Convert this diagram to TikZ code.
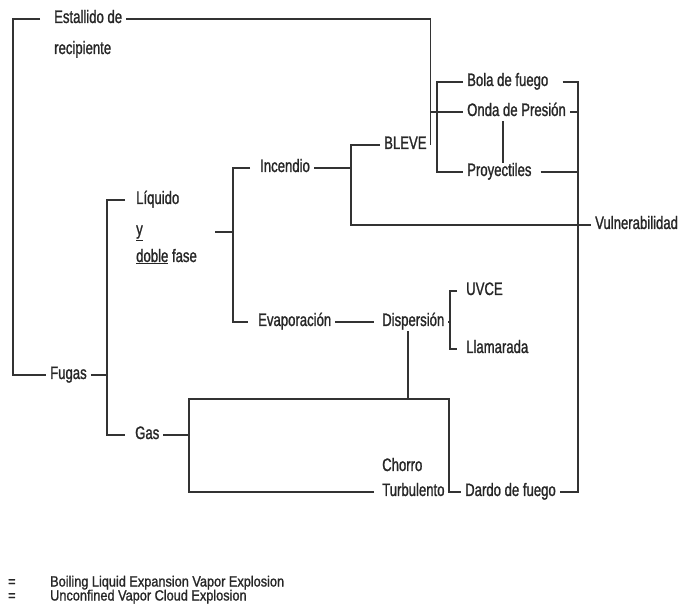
\documentclass[tikz,border=0pt]{standalone}
\usepackage{fontspec}
\setmainfont{Liberation Sans}[FakeStretch=0.73,FakeBold=1.2]
\newfontfamily\legfont{Liberation Sans}[FakeStretch=0.86,FakeBold=1.2]
\usepackage{tikz}
\usetikzlibrary{calc}
\definecolor{inkline}{HTML}{333333}
\definecolor{inktext}{HTML}{262626}

\begin{document}
\begin{tikzpicture}[x=1pt,y=-1pt,
    lbl/.style={anchor=west,inner xsep=4pt,inner ysep=1pt,text=inktext,
      font=\fontsize{18}{20}\selectfont,text height=12pt,text depth=4pt},
    leg/.style={lbl,inner ysep=0pt,text height=10pt,text depth=3pt,
      font=\legfont\fontsize{14.8}{16}\selectfont},
    link/.style={draw=inkline,line width=1.2pt}]
  \useasboundingbox (0,0) rectangle (678,612);
  % labels
  \node[lbl] (est)   at (50,19)   {Estallido de};
  \node[lbl] (rec)   at (50,50)   {recipiente};
  \node[lbl] (liq)   at (132,200) {Líquido};
  \node[lbl] (liqy)  at (132,231) {\underline{y}};
  \node[lbl] (liqf)  at (132,258) {\underline{doble} fase};
  \node[lbl] (fug)   at (46,375)  {Fugas};
  \node[lbl] (gas)   at (131,435) {Gas};
  \node[lbl] (inc)   at (256,168) {Incendio};
  \node[lbl] (evap)  at (254,322) {Evaporación};
  \node[lbl] (bleve) at (380,145) {BLEVE};
  \node[lbl] (bola)  at (463,82)  {Bola de fuego};
  \node[lbl] (onda)  at (463,112) {Onda de Presión};
  \node[lbl] (proy)  at (463,172) {Proyectiles};
  \node[lbl] (vuln)  at (591,225) {Vulnerabilidad};
  \node[lbl] (disp)  at (378,322) {Dispersión};
  \node[lbl] (uvce)  at (462,291) {UVCE};
  \node[lbl] (llam)  at (462,349) {Llamarada};
  \node[lbl] (cho)   at (378,467) {Chorro};
  \node[lbl] (turb)  at (378,492) {Turbulento};
  \node[lbl] (dardo) at (461,492) {Dardo de fuego};
  % legend
  \node[leg] (eq1) at (4,583) {=};
  \node[leg] (lg1) at (46,583) {Boiling Liquid Expansion Vapor Explosion};
  \node[leg] (eq2) at (4,597) {=};
  \node[leg] (lg2) at (46,597) {Unconfined Vapor Cloud Explosion};
  % bracket spines
  \coordinate (lsp) at (13,0);
  \coordinate (fsp) at (107,0);
  \coordinate (gsp) at (189,0);
  \coordinate (qsp) at (233,0);
  \coordinate (isp) at (351,0);
  \coordinate (dsp) at (408,0);
  \coordinate (bsp) at (437,0);
  \coordinate (ssp) at (450,0);
  \coordinate (osp) at (503,0);
  \coordinate (rsp) at (578,0);
  \coordinate (gtop) at (449,399);
  \coordinate (liqt) at (215,232);
  % connectors
  \draw[link] ([xshift=-10pt]est.west) -| (lsp |- fug) -- (fug.west);
  \draw[link] (est.east) -| (bleve.east);
  \draw[link] (bleve.east |- onda) -- (onda.west);
  \draw[link] (fug.east) -- (fsp |- fug);
  \draw[link] ([xshift=-7pt]liq.west) -| (fsp |- gas) -- ([xshift=-6pt]gas.west);
  \draw[link] (liqt) -- (qsp |- liqt);
  \draw[link] ([xshift=-6pt]inc.west) -| (qsp |- evap) -- ([xshift=-6pt]evap.west);
  \draw[link] (inc.east) -- (isp |- inc);
  \draw[link] (bleve.west) -| (isp |- vuln) -- (vuln.west);
  \draw[link] (bola.west) -| (bsp |- proy) -- (proy.west);
  \draw[link] (osp |- onda.south) -- (osp |- proy.north);
  \draw[link] ([xshift=10pt]bola.east) -| (rsp |- dardo) -- (dardo.east);
  \draw[link] (onda.east) -- (rsp |- onda);
  \draw[link] ([xshift=5pt]proy.east) -- (rsp |- proy);
  \draw[link] (evap.east) -- ([xshift=-4pt]disp.west);
  \draw[link] (disp.east) -- (ssp |- disp);
  \draw[link] ([xshift=-5pt]uvce.west) -| (ssp |- llam) -- ([xshift=-5pt]llam.west);
  \draw[link] (dsp |- disp.south) -- (dsp |- gtop);
  \draw[link] (gas.east) -- (gsp |- gas);
  \draw[link] ([xshift=-4pt]turb.west) -| (gsp |- gtop) -- (gtop) |- (dardo.west);
  \draw[link] (turb.east) -- (gtop |- turb);
\end{tikzpicture}
\end{document}
